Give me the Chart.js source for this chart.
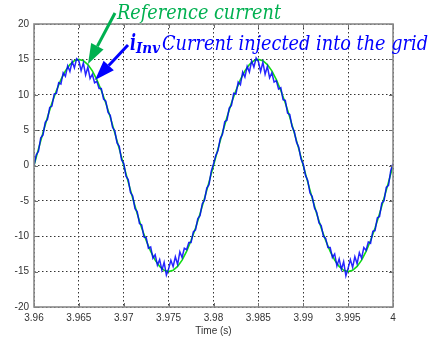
<!DOCTYPE html>
<html>
<head>
<meta charset="utf-8">
<script src="https://cdn.jsdelivr.net/npm/chart.js@4"></script>
<style>
html, body { margin: 0; padding: 0; background: #fff; }
#wrap { width: 438px; height: 344px; position: relative; }
</style>
</head>
<body>
<div id="wrap"><canvas id="currentChart"></canvas></div>
<script>
// time axis
const T0 = 3.96;
const REF_DT = 0.0005;
const INV_DT = 0.00025;
const xTickValues = [3.96, 3.965, 3.97, 3.975, 3.98, 3.985, 3.99, 3.995, 4];
const yTickValues = [-20, -15, -10, -5, 0, 5, 10, 15, 20];

// reference current (A), one sample every 0.5 ms
const refCurrent = [
    0, 2.35, 4.64, 6.81, 8.82, 10.61, 12.14, 13.37, 14.27, 14.82,
    15, 14.82, 14.27, 13.37, 12.14, 10.61, 8.82, 6.81, 4.64, 2.35,
    0, -2.35, -4.64, -6.81, -8.82, -10.61, -12.14, -13.37, -14.27, -14.82,
    -15, -14.82, -14.27, -13.37, -12.14, -10.61, -8.82, -6.81, -4.64, -2.35,
    0, 2.35, 4.64, 6.81, 8.82, 10.61, 12.14, 13.37, 14.27, 14.82,
    15, 14.82, 14.27, 13.37, 12.14, 10.61, 8.82, 6.81, 4.64, 2.35,
    0, -2.35, -4.64, -6.81, -8.82, -10.61, -12.14, -13.37, -14.27, -14.82,
    -15, -14.82, -14.27, -13.37, -12.14, -10.61, -8.82, -6.81, -4.64, -2.35,
    0
];

// injected inverter current (A), one sample every 0.25 ms
const invCurrent = [
    0, 1.5, 2.0, 3.9, 4.3, 6.1, 6.5, 8.2, 8.4, 10.1,
    10.2, 11.7, 11.5, 13.1, 12.6, 14.1, 13.3, 14.7, 13.8, 15.1,
    14.8, 13.4, 14.5, 12.8, 13.9, 12.3, 12.9, 11.7, 11.9, 10.9,
    10.9, 9.4, 9.1, 7.5, 7.1, 5.4, 4.9, 3.2, 2.7, 0.8,
    0.3, -1.5, -2.0, -3.8, -4.3, -6.1, -6.5, -8.2, -8.4, -10.1,
    -10.2, -11.7, -11.5, -13.1, -12.6, -14.1, -13.3, -14.8, -13.7, -15.5,
    -14.6, -13.4, -14.3, -12.9, -14.0, -12.2, -13.0, -11.7, -11.9, -10.9,
    -10.9, -9.4, -9.1, -7.5, -7.1, -5.4, -4.9, -3.2, -2.7, -0.8,
    0.2, 1.4, 2.1, 3.8, 4.4, 6.2, 6.4, 8.1, 8.5, 10.2,
    10.1, 11.8, 11.4, 13.2, 12.5, 14.0, 13.2, 14.8, 13.9, 15.2,
    14.7, 13.3, 14.6, 12.9, 14.0, 12.4, 13.1, 11.8, 12.0, 10.8,
    11.0, 9.3, 9.2, 7.4, 7.2, 5.5, 4.8, 3.3, 2.6, 0.9,
    0.2, -1.4, -2.1, -3.9, -4.4, -6.0, -6.6, -8.1, -8.5, -10.0,
    -10.3, -11.6, -11.6, -13.0, -12.5, -14.2, -13.2, -14.7, -13.6, -15.6,
    -14.5, -13.3, -14.4, -12.9, -13.9, -12.3, -13.1, -11.6, -12.0, -10.8,
    -11.0, -9.3, -9.2, -7.4, -7.2, -5.3, -5.0, -3.1, -2.8, -0.7,
    0.3
];

const toPoints = (values, dt) => values.map((v, i) => ({ x: T0 + i * dt, y: v }));

function drawArrow(ctx, x1, y1, x2, y2, color) {
    const ang = Math.atan2(y2 - y1, x2 - x1);
    const headLen = 20, headHalf = 7;
    const bx = x2 - headLen * Math.cos(ang);
    const by = y2 - headLen * Math.sin(ang);
    ctx.save();
    ctx.strokeStyle = color;
    ctx.fillStyle = color;
    ctx.lineWidth = 3;
    ctx.beginPath();
    ctx.moveTo(x1, y1);
    ctx.lineTo(bx, by);
    ctx.stroke();
    ctx.beginPath();
    ctx.moveTo(x2, y2);
    ctx.lineTo(bx + headHalf * Math.sin(ang), by - headHalf * Math.cos(ang));
    ctx.lineTo(bx - headHalf * Math.sin(ang), by + headHalf * Math.cos(ang));
    ctx.closePath();
    ctx.fill();
    ctx.restore();
}

// draw text squeezed/stretched to a given width
function fitText(ctx, text, x, y, width, font, color) {
    ctx.save();
    ctx.font = font;
    ctx.fillStyle = color;
    ctx.textBaseline = 'alphabetic';
    const w = ctx.measureText(text).width;
    ctx.translate(x, y);
    ctx.scale(width / w, 1);
    ctx.fillText(text, 0, 0);
    ctx.restore();
}

const axesBoxPlugin = {
    id: 'axesBox',
    afterDatasetsDraw(chart) {
        const { ctx, chartArea: a, scales } = chart;
        ctx.save();
        ctx.strokeStyle = '#6e6e6e';
        ctx.lineWidth = 1;
        ctx.beginPath();
        xTickValues.forEach(v => {
            const px = Math.round(scales.x.getPixelForValue(v)) + 0.5;
            ctx.moveTo(px, a.bottom); ctx.lineTo(px, a.bottom - 4);
            ctx.moveTo(px, a.top); ctx.lineTo(px, a.top + 4);
        });
        yTickValues.forEach(v => {
            const py = Math.round(scales.y.getPixelForValue(v)) + 0.5;
            ctx.moveTo(a.left, py); ctx.lineTo(a.left + 4, py);
            ctx.moveTo(a.right, py); ctx.lineTo(a.right - 4, py);
        });
        ctx.stroke();
        ctx.lineWidth = 1.6;
        ctx.strokeStyle = '#8a8a8a';
        ctx.strokeRect(a.left, a.top, a.right - a.left, a.bottom - a.top);
        ctx.restore();
    },
    afterDraw(chart) {
        const ctx = chart.ctx;
        drawArrow(ctx, 115, 13, 88, 64, '#00b050');
        drawArrow(ctx, 128, 45, 95, 80, '#0000ff');
        fitText(ctx, 'Reference current', 117, 19, 164, 'italic 21px "DejaVu Serif"', '#00b050');
        fitText(ctx, 'i', 130, 50, 6, 'bold italic 22px "DejaVu Serif"', '#0000ff');
        fitText(ctx, 'Inv', 136, 53, 24, 'bold italic 14px "DejaVu Serif"', '#0000ff');
        fitText(ctx, 'Current injected into the grid', 162, 50, 266, 'italic 21px "DejaVu Serif"', '#0000ff');
    }
};

const tickFont = { family: '"Liberation Sans", Arial, sans-serif', size: 10 };

new Chart(document.getElementById('currentChart'), {
    type: 'line',
    data: {
        datasets: [{
            label: 'i_Inv',
            data: toPoints(invCurrent, INV_DT),
            borderColor: 'rgba(0, 0, 255, 0.85)',
            borderWidth: 1.5,
            pointRadius: 0,
            fill: false
        }, {
            label: 'Reference current',
            data: toPoints(refCurrent, REF_DT),
            borderColor: '#11dd11',
            borderWidth: 1.6,
            pointRadius: 0,
            fill: false
        }]
    },
    options: {
        responsive: true,
        maintainAspectRatio: false,
        animation: false,
        layout: { padding: { top: 24, right: 45, left: 0, bottom: 0 } },
        plugins: {
            legend: { display: false },
            tooltip: { enabled: false }
        },
        scales: {
            x: {
                type: 'linear',
                min: 3.96,
                max: 4,
                afterBuildTicks: s => { s.ticks = xTickValues.map(v => ({ value: v })); },
                afterFit: s => { s.height = 37; },
                ticks: {
                    font: tickFont,
                    color: '#333',
                    padding: 5,
                    maxRotation: 0,
                    autoSkip: false,
                    callback: v => String(Math.round(v * 1000) / 1000)
                },
                grid: {
                    color: '#333',
                    lineWidth: 1,
                    drawTicks: false
                },
                border: { display: false, dash: [1.5, 2.5] },
                title: {
                    display: true,
                    text: 'Time (s)',
                    font: tickFont,
                    color: '#333',
                    padding: { top: 7, bottom: 7 }
                }
            },
            y: {
                min: -20,
                max: 20,
                afterBuildTicks: s => { s.ticks = yTickValues.map(v => ({ value: v })); },
                afterFit: s => { s.width = 34; },
                ticks: {
                    font: tickFont,
                    color: '#333',
                    padding: 5
                },
                grid: {
                    color: '#333',
                    lineWidth: 1,
                    drawTicks: false
                },
                border: { display: false, dash: [1.5, 2.5] }
            }
        }
    },
    plugins: [axesBoxPlugin]
});
</script>
</body>
</html>
